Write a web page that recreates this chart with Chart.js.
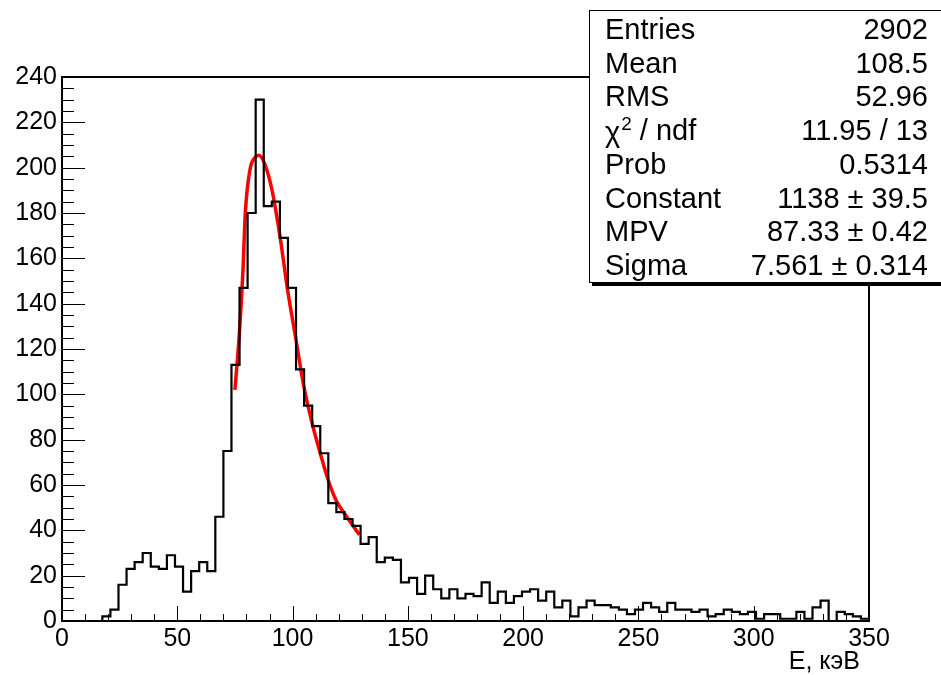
<!DOCTYPE html>
<html>
<head>
<meta charset="utf-8">
<script src="https://cdn.jsdelivr.net/npm/chart.js@4.4.1/dist/chart.umd.min.js"></script>
<style>
  body { margin: 0; background: #fff; }
  canvas { display: block; }
</style>
</head>
<body>
<canvas id="hist" width="941" height="675"></canvas>
<script>
// histogram: 100 bins of 3.5 keV from 0 to 350
const binWidth = 3.5;
const counts = [
    0, 0, 0, 0, 0, 2, 5, 16, 23, 26,
    30, 24, 23, 29, 24, 13, 22, 26, 22, 46,
    75, 113, 147, 180, 230, 183, 185, 169, 147, 111,
    95, 86, 74, 52, 48, 45, 42, 34, 37, 26,
    28, 27, 17, 19, 12, 20, 14, 10, 14, 10,
    12, 11, 17, 8, 13, 8, 11, 13, 14, 9,
    13, 6, 9, 2, 6, 9, 7, 7, 6, 5,
    3, 5, 8, 6, 4, 8, 5, 5, 4, 5,
    2, 3, 5, 4, 3, 4, 1, 3, 3, 1,
    1, 4, 1, 6, 9, 0, 4, 3, 2, 1
];

// fit curve
const fitE = [75, 77, 78.5, 79.5, 81.5, 83.7, 85.4, 88, 91, 94.5, 98, 101.5, 104.6, 108.3, 112, 115.5, 119, 123.5, 129];
const fitY = [102, 128, 155, 180, 199, 204.5, 205.5, 201.5, 190.5, 170, 145, 124, 105, 88, 74, 62, 53, 46, 38];

// stats box
const statLabels = ["Entries", "Mean", "RMS", "chi2", "Prob", "Constant", "MPV", "Sigma"];
const statValues = ["2902", "108.5", "52.96", "11.95 / 13", "0.5314", "1138 \u00b1 39.5", "87.33 \u00b1 0.42", "7.561 \u00b1 0.314"];

const FONT = "'Liberation Sans', Arial, sans-serif";

const histPoints = counts.map((c, i) => ({ x: i * binWidth, y: c }));
histPoints.push({ x: counts.length * binWidth, y: counts[counts.length - 1] });
const fitPoints = fitE.map((e, i) => ({ x: e, y: fitY[i] }));

// ROOT style frame, inner ticks and stats box
const rootFrame = {
    id: "rootFrame",
    afterDatasetsDraw(chart) {
        const { ctx, chartArea: a, scales: { x, y } } = chart;
        ctx.save();
        ctx.strokeStyle = "#000";
        ctx.lineWidth = 1;
        ctx.beginPath();
        for (let v = 0; v <= 350; v += 10) {
            const px = Math.round(x.getPixelForValue(v)) + 0.5;
            const len = v % 50 === 0 ? 15 : 7;
            ctx.moveTo(px, a.bottom);
            ctx.lineTo(px, a.bottom - len);
        }
        for (let v = 0; v <= 240; v += 5) {
            const py = Math.round(y.getPixelForValue(v)) + 0.5;
            const len = v % 20 === 0 ? 23 : 12;
            ctx.moveTo(a.left, py);
            ctx.lineTo(a.left + len, py);
        }
        ctx.stroke();
        ctx.lineWidth = 2;
        ctx.strokeRect(a.left, a.top, a.right - a.left, a.bottom - a.top);
        ctx.restore();
    },
    afterDraw(chart) {
        const ctx = chart.ctx;
        ctx.save();
        // stats box with shadow
        ctx.fillStyle = "#000";
        ctx.fillRect(592, 13, 360, 273);
        ctx.fillStyle = "#fff";
        ctx.fillRect(589, 10, 360, 273);
        ctx.strokeStyle = "#000";
        ctx.lineWidth = 1;
        ctx.strokeRect(589.5, 10.5, 360, 272);
        ctx.fillStyle = "#000";
        ctx.textBaseline = "middle";
        statLabels.forEach((lab, i) => {
            const cy = 31 + i * 33.7;
            ctx.font = "29px " + FONT;
            ctx.textAlign = "left";
            if (lab === "chi2") {
                // chi^2 with a raised 2
                ctx.fillText("\u03c7", 605, cy + 2);
                const w = ctx.measureText("\u03c7").width;
                ctx.font = "19px " + FONT;
                ctx.fillText("2", 605 + w + 1, cy - 7);
                const w2 = ctx.measureText("2").width;
                ctx.font = "29px " + FONT;
                ctx.fillText(" / ndf", 605 + w + w2 + 1, cy);
            } else {
                ctx.fillText(lab, 605, cy);
            }
            ctx.textAlign = "right";
            ctx.fillText(statValues[i], 928, cy);
        });
        // axis title
        ctx.font = "25px " + FONT;
        ctx.textAlign = "right";
        ctx.fillText("E, \u043a\u044d\u0412", 860, 662);
        ctx.restore();
    }
};

new Chart(document.getElementById("hist"), {
    type: "line",
    data: {
        datasets: [
            {
                data: histPoints,
                borderColor: "#000",
                borderWidth: 2.2,
                stepped: true,
                pointRadius: 0,
                fill: false
            },
            {
                data: fitPoints,
                borderColor: "#ff0000",
                borderWidth: 3.5,
                cubicInterpolationMode: "monotone",
                pointRadius: 0,
                fill: false
            }
        ]
    },
    options: {
        responsive: false,
        animation: false,
        layout: { padding: { top: 77, right: 72, left: 0, bottom: 0 } },
        plugins: { legend: { display: false }, tooltip: { enabled: false } },
        scales: {
            x: {
                type: "linear",
                min: 0,
                max: 350,
                afterFit(scale) { scale.height = 54; },
                grid: { display: false, drawTicks: false },
                border: { display: false },
                ticks: {
                    stepSize: 50,
                    autoSkip: false,
                    maxRotation: 0,
                    padding: 3,
                    color: "#000",
                    font: { family: FONT, size: 25 }
                }
            },
            y: {
                min: 0,
                max: 240,
                afterFit(scale) { scale.width = 62; },
                grid: { display: false, drawTicks: false },
                border: { display: false },
                ticks: {
                    stepSize: 20,
                    autoSkip: false,
                    padding: 5,
                    color: "#000",
                    font: { family: FONT, size: 25 }
                }
            }
        }
    },
    plugins: [rootFrame]
});
</script>
</body>
</html>
